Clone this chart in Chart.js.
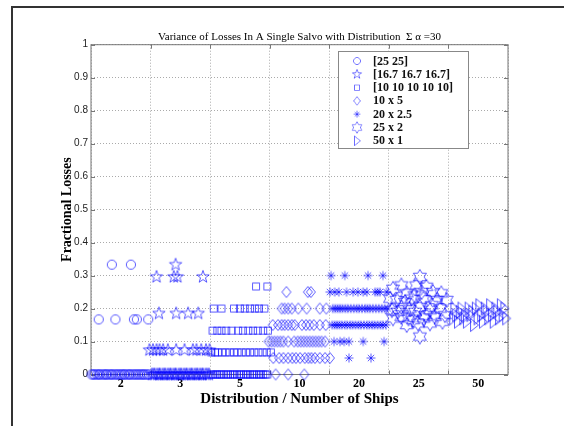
<!DOCTYPE html>
<html>
<head>
<meta charset="utf-8">
<script src="https://cdn.jsdelivr.net/npm/chart.js@4.4.1/dist/chart.umd.min.js"></script>
<style>
  html, body { margin: 0; padding: 0; background: #fff; }
</style>
</head>
<body>
<canvas id="chart" width="564" height="426"></canvas>
<script>
// Tick labels for each distribution group (one group per unit on x)
const xTickLabels = ['2', '3', '5', '10', '20', '25', '50'];
const seriesLabels = ['[25 25]', '[16.7 16.7 16.7]', '[10 10 10 10 10]', '10 x 5', '20 x 2.5', '25 x 2', '50 x 1'];
const titleText = 'Variance of Losses In A Single Salvo with Distribution  \u03A3 \u03B1 =30';

// Rows: [fractional loss, [x positions]]
const circleRows = [
  [0.333, [0.35, 0.67]],
  [0.167, [0.13, 0.41, 0.72, 0.77, 0.96]],
  [0, [0.01, 0.04, 0.06, 0.1, 0.13, 0.15, 0.19, 0.22, 0.25, 0.27, 0.31, 0.34, 0.36, 0.4, 0.43, 0.46, 0.49,
       0.52, 0.55, 0.57, 0.61, 0.64, 0.66, 0.7, 0.73, 0.76, 0.79, 0.82, 0.85, 0.88, 0.9, 0.94, 0.97]]
];
const starRows = [
  [0.333, [1.42]],
  [0.296, [1.1, 1.39, 1.45, 1.88]],
  [0.185, [1.14, 1.43, 1.63, 1.8]],
  [0.074, [0.98, 1.04, 1.1, 1.15, 1.21, 1.29, 1.43, 1.57, 1.71, 1.77, 1.85, 1.93, 1.99]],
  [0, [1.02, 1.05, 1.07, 1.11, 1.14, 1.16, 1.2, 1.23, 1.25, 1.29, 1.32, 1.34, 1.38, 1.41, 1.43, 1.47, 1.5,
       1.52, 1.56, 1.59, 1.61, 1.65, 1.68, 1.7, 1.74, 1.77, 1.79, 1.83, 1.86, 1.88, 1.92, 1.95, 1.98]]
];
const squareRows = [
  [0.267, [2.77, 2.96]],
  [0.2, [2.06, 2.19, 2.4, 2.5, 2.58, 2.67, 2.75, 2.82, 2.91]],
  [0.133, [2.04, 2.12, 2.19, 2.27, 2.36, 2.47, 2.55, 2.64, 2.72, 2.8, 2.89, 2.97]],
  [0.067, [2.02, 2.08, 2.13, 2.2, 2.26, 2.33, 2.4, 2.46, 2.53, 2.6, 2.67, 2.74, 2.81, 2.88, 2.95, 3.02]],
  [0, [2.02, 2.05, 2.09, 2.12, 2.16, 2.19, 2.23, 2.27, 2.3, 2.34, 2.38, 2.41, 2.45, 2.49, 2.52, 2.56,
       2.6, 2.63, 2.67, 2.71, 2.74, 2.78, 2.82, 2.85, 2.89, 2.93, 2.96]]
];
const diamondRows = [
  [0.25, [3.28, 3.64, 3.69]],
  [0.2, [3.2, 3.25, 3.31, 3.37, 3.48, 3.62, 3.84, 3.95]],
  [0.15, [3.05, 3.14, 3.2, 3.25, 3.31, 3.37, 3.42, 3.54, 3.61, 3.67, 3.74, 3.84, 3.94]],
  [0.1, [2.98, 3.03, 3.08, 3.13, 3.18, 3.23, 3.31, 3.41, 3.47, 3.52, 3.57, 3.62, 3.67, 3.72, 3.77, 3.82, 3.87, 3.93]],
  [0.05, [3.06, 3.16, 3.23, 3.31, 3.38, 3.44, 3.51, 3.59, 3.65, 3.7, 3.76, 3.84, 3.93, 4.01]],
  [0, [3.1, 3.31, 3.58]]
];
const asteriskRows = [
  [0.3, [4.03, 4.26, 4.65, 4.9]],
  [0.25, [4.01, 4.09, 4.16, 4.29, 4.4, 4.48, 4.57, 4.63, 4.77, 4.81, 4.85, 4.96]],
  [0.2, [4.06, 4.1, 4.14, 4.18, 4.22, 4.27, 4.31, 4.36, 4.41, 4.46, 4.5, 4.55, 4.6, 4.64, 4.68, 4.73, 4.78, 4.83, 4.88, 4.93, 4.98]],
  [0.15, [4.05, 4.09, 4.13, 4.17, 4.21, 4.26, 4.3, 4.35, 4.39, 4.44, 4.49, 4.53, 4.58, 4.63, 4.67, 4.72, 4.76, 4.81, 4.86, 4.9, 4.95]],
  [0.1, [4.08, 4.18, 4.25, 4.33, 4.57, 4.92]],
  [0.05, [4.33, 4.7]]
];
// [x, fractional loss]
const hexagramPts = [
  [5.07, 0.26], [5.21, 0.27], [5.3, 0.246], [5.46, 0.27], [5.63, 0.266], [5.74, 0.25], [5.88, 0.246],
  [5.13, 0.226], [5.38, 0.23], [5.58, 0.23], [5.8, 0.226], [5.97, 0.226],
  [5.05, 0.195], [5.21, 0.205], [5.35, 0.2], [5.52, 0.205], [5.69, 0.195], [5.86, 0.2],
  [5.07, 0.17], [5.21, 0.175], [5.41, 0.165], [5.58, 0.17], [5.77, 0.175], [5.94, 0.18],
  [5.3, 0.15], [5.49, 0.155], [5.69, 0.155], [5.52, 0.115], [5.52, 0.296],
  [5.15, 0.19], [5.27, 0.22], [5.44, 0.19], [5.62, 0.18], [5.72, 0.21], [5.9, 0.16],
  [5.43, 0.24], [5.55, 0.25], [5.02, 0.23], [5.33, 0.17]
];
const trianglePts = [
  [6.08, 0.17], [6.1, 0.2], [6.13, 0.18], [6.16, 0.16], [6.19, 0.19], [6.22, 0.2], [6.25, 0.17],
  [6.28, 0.18], [6.31, 0.16], [6.34, 0.2], [6.37, 0.18], [6.4, 0.19], [6.43, 0.15], [6.46, 0.2],
  [6.49, 0.17], [6.52, 0.21], [6.55, 0.18], [6.58, 0.16], [6.61, 0.2], [6.64, 0.19], [6.67, 0.17],
  [6.7, 0.21], [6.73, 0.18], [6.76, 0.16], [6.79, 0.2], [6.82, 0.19], [6.85, 0.17], [6.88, 0.21],
  [6.91, 0.18], [6.94, 0.2], [6.97, 0.17]
];

const markerColor = 'rgba(0, 0, 255, 0.65)';

function fromRows(rows) {
  const out = [];
  rows.forEach(r => r[1].forEach(x => out.push({ x: x, y: r[0] })));
  return out;
}
function fromPairs(pts) {
  return pts.map(p => ({ x: p[0], y: p[1] }));
}

// Draw a marker shape into a small canvas, usable as a pointStyle
function makeMarker(w, h, draw) {
  const c = document.createElement('canvas');
  c.width = w;
  c.height = h;
  const g = c.getContext('2d');
  g.strokeStyle = markerColor;
  g.lineWidth = 1;
  g.translate(w / 2, h / 2);
  g.beginPath();
  draw(g);
  g.stroke();
  return c;
}
function starPath(g, n, rOut, rIn) {
  for (let i = 0; i < n * 2; i++) {
    const a = -Math.PI / 2 + i * Math.PI / n;
    const r = i % 2 ? rIn : rOut;
    if (i === 0) g.moveTo(r * Math.cos(a), r * Math.sin(a));
    else g.lineTo(r * Math.cos(a), r * Math.sin(a));
  }
  g.closePath();
}

const markers = [
  makeMarker(12, 12, g => g.arc(0, 0, 4.6, 0, Math.PI * 2)),
  makeMarker(16, 16, g => starPath(g, 5, 6.5, 2.6)),
  makeMarker(10, 10, g => g.rect(-3.5, -3.5, 7, 7)),
  makeMarker(12, 14, g => { g.moveTo(0, -5.5); g.lineTo(4.5, 0); g.lineTo(0, 5.5); g.lineTo(-4.5, 0); g.closePath(); }),
  makeMarker(12, 12, g => {
    for (let k = 0; k < 4; k++) {
      const a = k * Math.PI / 4;
      g.moveTo(-4.5 * Math.cos(a), -4.5 * Math.sin(a));
      g.lineTo(4.5 * Math.cos(a), 4.5 * Math.sin(a));
    }
  }),
  makeMarker(18, 18, g => starPath(g, 6, 7.5, 4.3)),
  makeMarker(12, 16, g => { g.moveTo(4.5, 0); g.lineTo(-3.5, -6.5); g.lineTo(-3.5, 6.5); g.closePath(); })
];

const seriesData = [
  fromRows(circleRows), fromRows(starRows), fromRows(squareRows), fromRows(diamondRows),
  fromRows(asteriskRows), fromPairs(hexagramPts), fromPairs(trianglePts)
];

// grid lines between groups, labels at group centres
const xTickValues = [];
xTickLabels.forEach((l, i) => { xTickValues.push(i, i + 0.5); });
xTickValues.push(xTickLabels.length);

// white page, outer figure frame
const framePlugin = {
  id: 'frame',
  beforeDraw(chart) {
    const c = chart.ctx;
    c.save();
    c.fillStyle = '#fff';
    c.fillRect(0, 0, chart.width, chart.height);
    c.strokeStyle = '#333';
    c.lineWidth = 2;
    c.beginPath();
    c.moveTo(12, chart.height);
    c.lineTo(12, 7);
    c.lineTo(chart.width, 7);
    c.stroke();
    c.restore();
  }
};

// axes box with inward tick marks (matlab look)
const boxPlugin = {
  id: 'box',
  beforeDatasetsDraw(chart) {
    const c = chart.ctx;
    const a = chart.chartArea;
    const xs = chart.scales.x, ys = chart.scales.y;
    c.save();
    c.strokeStyle = '#777';
    c.lineWidth = 1;
    c.strokeRect(a.left, a.top, a.right - a.left, a.bottom - a.top);
    c.beginPath();
    for (let i = 1; i < xTickLabels.length; i++) {
      const px = Math.round(xs.getPixelForValue(i)) + 0.5;
      c.moveTo(px, a.bottom); c.lineTo(px, a.bottom - 4);
      c.moveTo(px, a.top); c.lineTo(px, a.top + 4);
    }
    ys.ticks.forEach(t => {
      const py = Math.round(ys.getPixelForValue(t.value)) + 0.5;
      c.moveTo(a.left, py); c.lineTo(a.left + 4, py);
      c.moveTo(a.right, py); c.lineTo(a.right - 4, py);
    });
    c.stroke();
    c.restore();
  }
};

// boxed legend inside the plot, top right
const legendPlugin = {
  id: 'boxLegend',
  afterDatasetsDraw(chart) {
    const c = chart.ctx;
    c.save();
    c.fillStyle = '#fff';
    c.strokeStyle = '#888';
    c.lineWidth = 1;
    c.fillRect(338.5, 51.5, 130, 97);
    c.strokeRect(338.5, 51.5, 130, 97);
    c.font = 'bold 12px "Liberation Serif", serif';
    c.fillStyle = '#111';
    c.textBaseline = 'middle';
    seriesLabels.forEach((label, i) => {
      const y = 61 + i * 13.3;
      const m = markers[i];
      const s = 0.75;
      c.drawImage(m, 357 - m.width * s / 2, y - m.height * s / 2, m.width * s, m.height * s);
      c.fillText(label, 373, y + 0.5);
    });
    c.restore();
  }
};

new Chart(document.getElementById('chart'), {
  type: 'scatter',
  data: {
    datasets: seriesData.map((d, i) => ({
      label: seriesLabels[i],
      data: d,
      pointStyle: markers[i],
      pointRadius: 5,
      showLine: false,
      clip: false
    }))
  },
  options: {
    responsive: false,
    animation: false,
    events: [],
    layout: { padding: { left: 12, right: 56, top: 0, bottom: 0 } },
    plugins: {
      legend: { display: false },
      tooltip: { enabled: false },
      title: {
        display: true,
        fullSize: false,
        text: titleText,
        color: '#000',
        font: { family: '"Liberation Serif", serif', size: 11, weight: 'normal' },
        padding: { top: 30.5, bottom: 1 }
      }
    },
    scales: {
      x: {
        type: 'linear',
        min: 0,
        max: xTickLabels.length,
        afterBuildTicks: s => { s.ticks = xTickValues.map(v => ({ value: v })); },
        afterFit: s => { s.height = 51.5; },
        grid: {
          color: ctx => (ctx.tick && Number.isInteger(ctx.tick.value)) ? '#aaa' : 'rgba(0,0,0,0)',
          drawTicks: false
        },
        border: { display: false, dash: [1, 2] },
        ticks: {
          autoSkip: false,
          maxRotation: 0,
          padding: 2,
          color: '#000',
          font: { family: '"Liberation Serif", serif', size: 12, weight: 'bold' },
          callback: v => Number.isInteger(v) ? '' : xTickLabels[Math.floor(v)]
        },
        title: {
          display: true,
          text: 'Distribution / Number of Ships',
          color: '#000',
          font: { family: '"Liberation Serif", serif', size: 15, weight: 'bold' },
          padding: { top: 18, bottom: 18 }
        }
      },
      y: {
        min: 0,
        max: 1,
        afterFit: s => { s.width = 79; },
        grid: { color: '#aaa', drawTicks: false },
        border: { display: false, dash: [1, 2] },
        ticks: {
          stepSize: 0.1,
          padding: 3,
          color: '#222',
          font: { family: '"Liberation Sans", Arial, sans-serif', size: 10 },
          callback: v => String(Number(v.toFixed(1)))
        },
        title: {
          display: true,
          text: 'Fractional Losses',
          color: '#000',
          font: { family: '"Liberation Serif", serif', size: 14, weight: 'bold' },
          padding: { top: 47, bottom: 47 }
        }
      }
    }
  },
  plugins: [framePlugin, boxPlugin, legendPlugin]
});
</script>
</body>
</html>
